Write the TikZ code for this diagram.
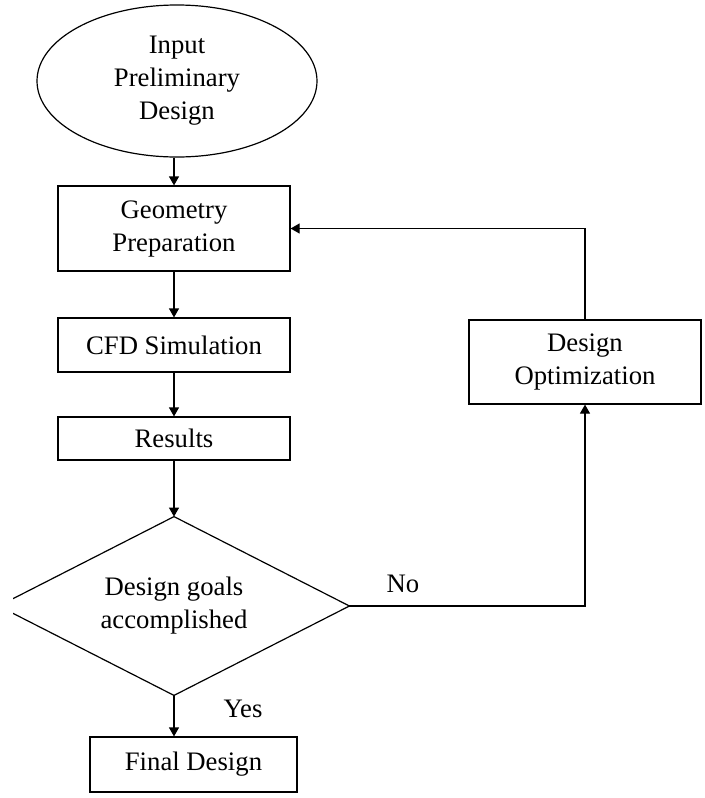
\documentclass[tikz,border=0pt]{standalone}
\usepackage{fontspec}
\setmainfont{Liberation Serif}
\usepackage{tikz}
\usetikzlibrary{arrows.meta,shapes.geometric}

\begin{document}
\begin{tikzpicture}[x=0.5pt, y=-0.5pt,
    % ---------- styles ----------
    every node/.style={font=\fontsize{13.35pt}{16.5pt}\selectfont},
    startnode/.style={draw, ellipse, line width=0.6pt, inner sep=0pt,
      minimum width=140pt, minimum height=76pt, align=center},
    procbox/.style={draw, rectangle, line width=0.6pt, inner sep=0pt,
      minimum width=116pt, align=center},
    decnode/.style={diamond, inner sep=0pt,
      shape aspect=2, minimum width=175pt, minimum height=89pt, align=center},
    lbl/.style={inner sep=0pt},
    arr/.style={-{Triangle[length=4.5pt, width=5pt]}, line width=0.6pt}
]

\def\colX{174}

\useasboundingbox (0,0) rectangle (705,798);

% ====== Main column ======
\node[startnode] (inp) at (177,81) {Input\\Preliminary\\Design};
\node[procbox, minimum height=42.5pt] (geo) at (\colX,228.5) {Geometry\\Preparation};
\node[procbox, minimum height=27pt] (cfd) at (\colX,345) {CFD Simulation};
\node[procbox, minimum height=21.5pt] (res) at (\colX,438.5) {Results};

% ====== Decision (left tip cut off) ======
\node[decnode] (dec) at (\colX,606) {Design goals\\accomplished};
\begin{scope}
  \clip (13,0) rectangle (705,798);
  \draw[line width=0.6pt] (dec.north) -- (dec.east) -- (dec.south)
    -- (dec.west) -- cycle;
\end{scope}

\node[procbox, minimum width=103.5pt, minimum height=27.5pt] (fin) at (193.5,764.5) {Final Design};

% ====== Right column ======
\node[procbox, minimum height=42pt] (opt) at (585,362) {Design\\Optimization};

% ====== Labels ======
\node[lbl] (no) at (403,584) {No};
\node[lbl] (yes) at (243,709) {Yes};

% ====== Arrows ======
\draw[arr] (geo.north |- inp.south) -- (geo.north);
\foreach \a/\b in {geo/cfd, cfd/res, res/dec} {
    \draw[arr] (\a.south) -- (\b.north);
}
\draw[arr] (dec.south) -- (dec.south |- fin.north);
\draw[arr] (dec.east) -| (opt.south);
\draw[arr] (opt.north) |- (geo.east);

\end{tikzpicture}
\end{document}
